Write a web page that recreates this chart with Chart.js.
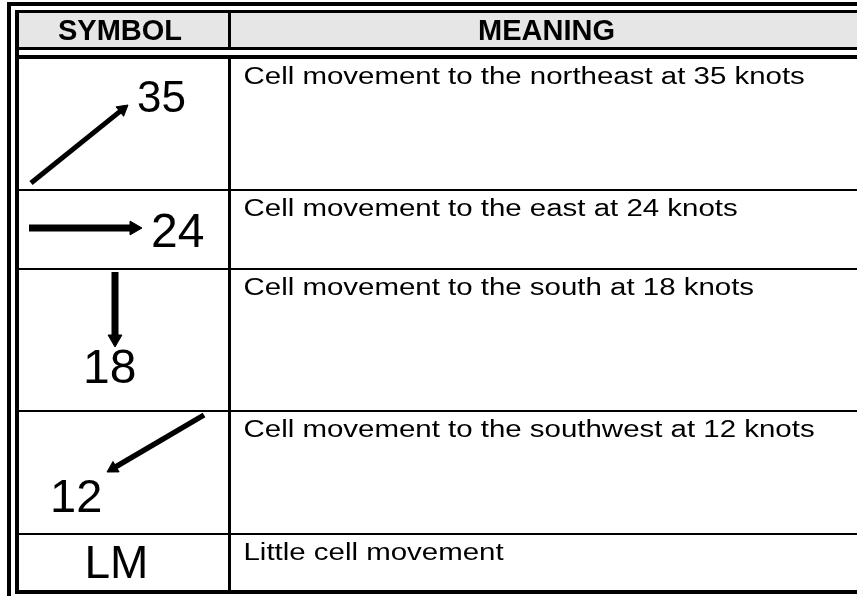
<!DOCTYPE html>
<html>
<head>
<meta charset="utf-8">
<script src="https://cdn.jsdelivr.net/npm/chart.js@4"></script>
<style>
html,body{margin:0;padding:0;background:#fff;overflow:hidden;}
canvas{display:block;}
</style>
</head>
<body>
<canvas id="c" width="857" height="596"></canvas>
<script>
// ---- table content ----
const headers = ['SYMBOL', 'MEANING'];
const symbolLabels = ['35', '24', '18', '12', 'LM'];
const meanings = [
  'Cell movement to the northeast at 35 knots',
  'Cell movement to the east at 24 knots',
  'Cell movement to the south at 18 knots',
  'Cell movement to the southwest at 12 knots',
  'Little cell movement'
];

// ---- layout (scale units == canvas px) ----
const W = 857, H = 596;
const rowSeps = [190, 269, 411, 534];
const rowTops = [59, 191, 270, 412, 535];
const hRules = [
  {y: 4,    x0: 7,  x1: W, w: 4},
  {y: 11.5, x0: 15, x1: W, w: 3},
  {y: 48.5, x0: 15, x1: W, w: 3},
  {y: 57,   x0: 15, x1: W, w: 4},
  ...rowSeps.map(y => ({y, x0: 19, x1: W, w: 2})),
  {y: 592,  x0: 15, x1: W, w: 4}
];
const vRules = [
  {x: 9,     y0: 2,  y1: H,   w: 4},
  {x: 17,    y0: 10, y1: 594, w: 4},
  {x: 229.5, y0: 10, y1: 50,  w: 3},
  {x: 229.5, y0: 55, y1: 594, w: 3}
];
const arrows = [
  {sx: 31,  sy: 183, tx: 128, ty: 105, w: 5,   r: 7},
  {sx: 29,  sy: 228, tx: 142, ty: 228, w: 7,   r: 8},
  {sx: 115, sy: 272, tx: 115, ty: 347, w: 7,   r: 8},
  {sx: 204, sy: 415, tx: 107, ty: 472, w: 5.5, r: 7}
];
const symbolText = [
  {x: 137,  y: 112, size: 44},
  {x: 151,  y: 247, size: 48},
  {x: 83,   y: 383, size: 48},
  {x: 50,   y: 512, size: 47},
  {x: 84.5, y: 578, size: 46}
];
const headerText = [{x: 58, y: 40}, {x: 478, y: 40}];
const meaningX = 243.5, meaningOffset = 24.5, meaningScaleX = 1.28, meaningSize = 23;

// ---- datasets ----
const datasets = [];
hRules.forEach(r => datasets.push({
  data: [{x: r.x0, y: r.y}, {x: r.x1, y: r.y}],
  showLine: true, borderColor: '#000', borderWidth: r.w, pointRadius: 0,
  borderCapStyle: 'butt', clip: false
}));
vRules.forEach(r => datasets.push({
  data: [{x: r.x, y: r.y0}, {x: r.x, y: r.y1}],
  showLine: true, borderColor: '#000', borderWidth: r.w, pointRadius: 0,
  borderCapStyle: 'butt', clip: false
}));
arrows.forEach(a => {
  const dx = a.tx - a.sx, dy = a.ty - a.sy;
  const len = Math.hypot(dx, dy);
  const ux = dx / len, uy = dy / len;
  const cx = a.tx - ux * a.r, cy = a.ty - uy * a.r;
  const ang = Math.atan2(dx, -dy) * 180 / Math.PI;
  datasets.push({
    data: [{x: a.sx, y: a.sy}, {x: cx, y: cy}],
    showLine: true, borderColor: '#000', borderWidth: a.w,
    borderCapStyle: 'butt',
    pointStyle: ['circle', 'triangle'],
    pointRadius: [0, a.r],
    pointRotation: [0, ang],
    pointBackgroundColor: '#000', pointBorderColor: '#000', pointBorderWidth: 1,
    clip: false
  });
});

const tablePlugin = {
  id: 'tableText',
  beforeDatasetsDraw(chart) {
    const {ctx, scales: {x, y}} = chart;
    ctx.save();
    ctx.fillStyle = '#e6e6e6';
    const x0 = x.getPixelForValue(19), x1 = x.getPixelForValue(W);
    const y0 = y.getPixelForValue(13), y1 = y.getPixelForValue(47);
    ctx.fillRect(x0, y0, x1 - x0, y1 - y0);
    ctx.restore();
  },
  afterDatasetsDraw(chart) {
    const {ctx, scales: {x, y}} = chart;
    ctx.save();
    ctx.fillStyle = '#000';
    ctx.textBaseline = 'alphabetic';
    ctx.textAlign = 'left';
    ctx.font = 'bold 29px "Liberation Sans", Arial, sans-serif';
    headers.forEach((h, i) => {
      ctx.fillText(h, x.getPixelForValue(headerText[i].x), y.getPixelForValue(headerText[i].y));
    });
    symbolLabels.forEach((s, i) => {
      const t = symbolText[i];
      ctx.font = t.size + 'px "Liberation Sans", Arial, sans-serif';
      ctx.fillText(s, x.getPixelForValue(t.x), y.getPixelForValue(t.y));
    });
    ctx.font = meaningSize + 'px "Liberation Sans", Arial, sans-serif';
    meanings.forEach((m, i) => {
      const px = x.getPixelForValue(meaningX);
      const py = y.getPixelForValue(rowTops[i] + meaningOffset);
      ctx.save();
      ctx.translate(px, py);
      ctx.scale(meaningScaleX, 1);
      ctx.fillText(m, 0, 0);
      ctx.restore();
    });
    ctx.restore();
  }
};

new Chart(document.getElementById('c'), {
  type: 'scatter',
  data: {datasets},
  options: {
    responsive: false,
    animation: false,
    events: [],
    layout: {padding: 0, autoPadding: false},
    plugins: {legend: {display: false}, tooltip: {enabled: false}, title: {display: false}},
    scales: {
      x: {type: 'linear', min: 0, max: W, display: false},
      y: {type: 'linear', min: 0, max: H, reverse: true, display: false}
    }
  },
  plugins: [tablePlugin]
});
</script>
</body>
</html>
